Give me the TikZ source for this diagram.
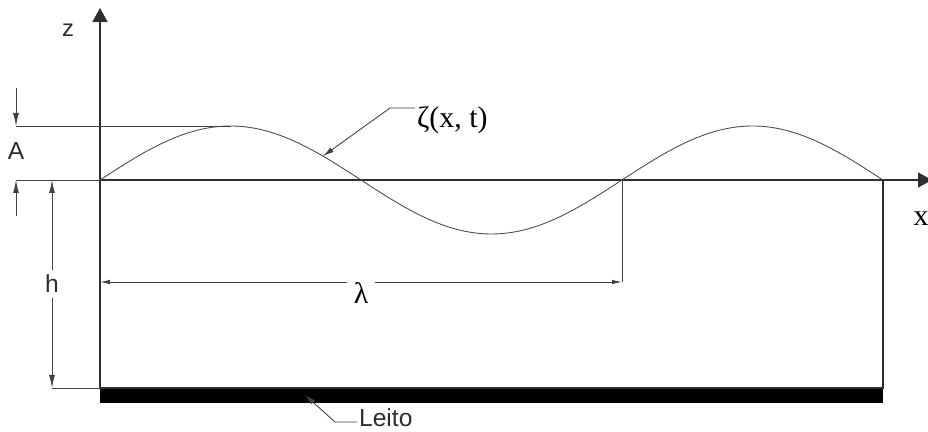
\documentclass[tikz,border=0pt]{standalone}
\usepackage{fontspec}
\setmainfont{Liberation Serif}
\setsansfont{Liberation Sans}
\usepackage{tikz}
\usetikzlibrary{arrows.meta,calc}
\definecolor{ink}{RGB}{45,45,50}
\definecolor{txt}{RGB}{45,45,50}
\tikzset{
  line/.style={ink, line width=0.6pt},
  wave/.style={ink!85, line width=0.5pt},
  ext/.style={ink!90, line width=0.5pt},
  axis/.style={ink, line width=0.7pt, -{Triangle[length=2.8mm,width=3mm]}},
  dim/.style={ink!90, line width=0.5pt, -{Latex[length=2.6mm,width=1.2mm]}},
  dimboth/.style={ink!90, line width=0.5pt, {Latex[length=2.6mm,width=1.2mm]}-{Latex[length=2.6mm,width=1.2mm]}},
  dimsmall/.style={ink!90, line width=0.5pt, {Latex[length=2mm,width=0.9mm]}-{Latex[length=2mm,width=0.9mm]}},
  lead/.style={ink!90, line width=0.5pt, -{Latex[length=2.2mm,width=1.1mm]}},
  sanslbl/.style={text=txt, font=\sffamily\fontsize{14}{16}\selectfont, inner sep=1pt},
  seriflbl/.style={text=black, font=\fontsize{17}{19}\selectfont, inner sep=1pt},
}

\begin{document}
\begin{tikzpicture}
    \useasboundingbox (-2.0,-5.04) rectangle (16.56,3.6);
    % channel corners
    \coordinate (O) at (0,0);
    \coordinate (E) at (15.66,0);
    \coordinate (B) at (0,-4.16);
    \coordinate (BE) at (15.66,-4.16);
    \coordinate (N) at (10.44,0);
    \coordinate (P) at (2.61,1.08);
    % bed
    \fill[black] (B) rectangle ([yshift=-0.31cm]BE);
    \draw[line] (O) -- (B) -- (BE) -- (E);
    % axes
    \coordinate (ztip) at (0,3.44);
    \coordinate (xtip) at (16.64,0);
    \draw[axis] (O) -- (ztip);
    \draw[axis] (O) -- (xtip);
    \node[sanslbl, font=\sffamily\fontsize{13.5}{15}\selectfont] (zlab) at (-0.64,3.0) {z};
    \node[seriflbl] (xlab) at (16.42,-0.78) {x};
    % free surface
    \draw[wave] plot[domain=0:15.66,samples=160,smooth] (\x,{1.08*sin(\x*34.483)});
    % A
    \coordinate (a1) at (-1.68,1.08);
    \coordinate (a0) at (-1.68,0);
    \draw[ext] (a1) -- (P);
    \draw[ext] (a0) -- (O);
    \draw[dim] (-1.68,1.84) -- (a1);
    \draw[dim] (-1.68,-0.72) -- (a0);
    \node[sanslbl] (Alab) at (-1.68,0.58) {A};
    % h
    \coordinate (h0) at (-0.96,0);
    \coordinate (h1) at (-0.96,-4.16);
    \draw[ext] (h1) -- (B);
    \draw[dimboth] (h0) -- node[sanslbl, fill=white, inner sep=3pt] (hlab) {h} (h1);
    % lambda
    \coordinate (l0) at (0,-2.04);
    \coordinate (l1) at (10.44,-2.04);
    \draw[ext] (N) -- (l1);
    \draw[dimsmall] (l0) -- node[seriflbl, fill=white, inner xsep=4pt, yshift=-6pt] (lam) {λ} (l1);
    % zeta leader
    \coordinate (zt) at (4.46,{1.08*sin(4.46*34.483)});
    \coordinate (zb) at (5.8,1.44);
    \node[seriflbl, anchor=west] (zeta) at (6.3,1.2) {ζ(x, t)};
    \draw[lead] (zeta.west |- zb) -- (zb) -- (zt);
    % bed leader
    \coordinate (bt) at (4.1,-4.3);
    \coordinate (bb) at (4.7,-4.84);
    \node[sanslbl, anchor=west] (leito) at (5.14,-4.76) {Leito};
    \draw[lead] (leito.west |- bb) -- (bb) -- (bt);
\end{tikzpicture}
\end{document}
